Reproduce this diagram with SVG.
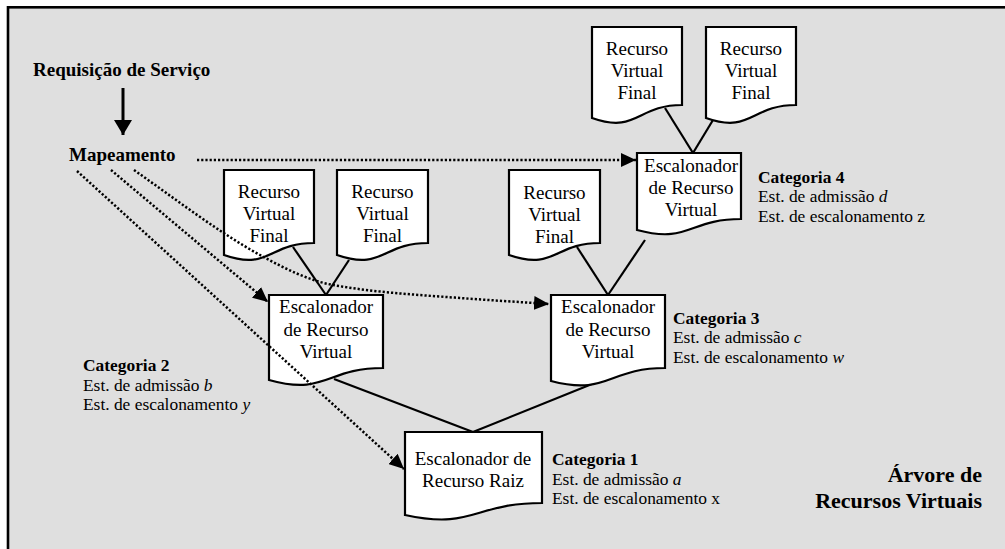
<svg xmlns="http://www.w3.org/2000/svg" width="1005" height="549" viewBox="0 0 1005 549">
  <style>
    .doc { fill: #ffffff; stroke: #000000; stroke-width: 2.2; stroke-linejoin: miter; }
    .lbl { font-family: "Liberation Serif", "Times New Roman", serif; font-size: 19px; fill: #000000; text-anchor: middle; }
    .head { font-family: "Liberation Serif", "Times New Roman", serif; font-size: 19px; font-weight: bold; fill: #000000; }
    .cat { font-family: "Liberation Serif", "Times New Roman", serif; font-size: 17.4px; fill: #000000; }
    .cat .b { font-weight: bold; }
    .title { font-family: "Liberation Serif", "Times New Roman", serif; font-size: 22px; font-weight: bold; fill: #000000; text-anchor: end; }
    .tree { fill: none; stroke: #000000; stroke-width: 2.2; }
    .map { fill: none; stroke: #000000; stroke-width: 2.5; stroke-dasharray: 2.2 2; marker-end: url(#dotHead); }
  </style>
  <defs>
    <marker id="dotHead" markerUnits="userSpaceOnUse" markerWidth="16" markerHeight="14" refX="15" refY="7" orient="auto">
      <path d="M0,0 L15,7 L0,14 Z" fill="#000000"/>
    </marker>
    <marker id="bigHead" markerUnits="userSpaceOnUse" markerWidth="16" markerHeight="18" refX="15" refY="9" orient="auto">
      <path d="M0,0 L15,9 L0,18 Z" fill="#000000"/>
    </marker>
  </defs>

  <!-- page and frame -->
  <rect x="0" y="0" width="1005" height="549" fill="#ffffff"/>
  <rect x="8" y="7.3" width="1010" height="560" fill="#dfdfdf" stroke="#000000" stroke-width="2.6"/>

  <!-- request / mapping -->
  <g id="request">
    <text class="head" x="33" y="76">Requisição de Serviço</text>
  </g>
  <g id="mapping">
    <text class="head" x="69" y="161">Mapeamento</text>
  </g>

  <!-- tree edges -->
  <g id="tree-edges" class="tree">
    <line x1="665" y1="108" x2="693" y2="153"/>
    <line x1="713" y1="120" x2="693" y2="153"/>
    <line x1="293" y1="247" x2="326" y2="295"/>
    <line x1="349" y1="260" x2="326" y2="295"/>
    <line x1="577" y1="247" x2="608" y2="295"/>
    <line x1="645" y1="240" x2="608" y2="295"/>
    <line x1="334" y1="379" x2="473" y2="432"/>
    <line x1="592" y1="384" x2="473" y2="432"/>
  </g>

  <!-- leaf resources -->
  <g id="leaf-4a">
    <path class="doc" d="M592,27 H682 V105 C637,105 637,134 592,118 Z"/>
    <text class="lbl" x="637" y="55">Recurso</text>
    <text class="lbl" x="637" y="77">Virtual</text>
    <text class="lbl" x="637" y="99">Final</text>
  </g>
  <g id="leaf-4b">
    <path class="doc" d="M706,27 H796 V105 C751,105 751,134 706,118 Z"/>
    <text class="lbl" x="751" y="55">Recurso</text>
    <text class="lbl" x="751" y="77">Virtual</text>
    <text class="lbl" x="751" y="99">Final</text>
  </g>
  <g id="leaf-2a">
    <path class="doc" d="M224,170 H314 V243 C269,243 269,271 224,255 Z"/>
    <text class="lbl" x="269" y="198">Recurso</text>
    <text class="lbl" x="269" y="220">Virtual</text>
    <text class="lbl" x="269" y="242">Final</text>
  </g>
  <g id="leaf-2b">
    <path class="doc" d="M337,170 H428 V243 C382.5,243 382.5,271 337,255 Z"/>
    <text class="lbl" x="382.5" y="198">Recurso</text>
    <text class="lbl" x="382.5" y="220">Virtual</text>
    <text class="lbl" x="382.5" y="242">Final</text>
  </g>
  <g id="leaf-3a">
    <path class="doc" d="M509,170 H600 V243 C554.5,243 554.5,271 509,255 Z"/>
    <text class="lbl" x="554.5" y="199">Recurso</text>
    <text class="lbl" x="554.5" y="221">Virtual</text>
    <text class="lbl" x="554.5" y="243">Final</text>
  </g>

  <!-- schedulers -->
  <g id="sched-4">
    <path class="doc" d="M637,153 H741 V219 C689,219 689,244 637,230 Z"/>
    <text class="lbl" x="691" y="172">Escalonador</text>
    <text class="lbl" x="691" y="194">de Recurso</text>
    <text class="lbl" x="691" y="216">Virtual</text>
  </g>
  <g id="sched-2">
    <path class="doc" d="M269,295 H383 V368 C326,368 326,396 269,380 Z"/>
    <text class="lbl" x="326" y="313">Escalonador</text>
    <text class="lbl" x="326" y="336">de Recurso</text>
    <text class="lbl" x="326" y="358">Virtual</text>
  </g>
  <g id="sched-3">
    <path class="doc" d="M551,295 H665 V368 C608,368 608,396 551,381 Z"/>
    <text class="lbl" x="608" y="313">Escalonador</text>
    <text class="lbl" x="608" y="336">de Recurso</text>
    <text class="lbl" x="608" y="358">Virtual</text>
  </g>
  <g id="sched-root">
    <path class="doc" d="M405,432 H542 V503 C473.5,503 473.5,530 405,515 Z"/>
    <text class="lbl" x="473" y="465">Escalonador de</text>
    <text class="lbl" x="473" y="487">Recurso Raiz</text>
  </g>

  <!-- category notes -->
  <g id="cat-4" class="cat">
    <text class="b" x="758" y="183">Categoria 4</text>
    <text x="758" y="202">Est. de admissão <tspan font-style="italic">d</tspan></text>
    <text x="758" y="222">Est. de escalonamento z</text>
  </g>
  <g id="cat-3" class="cat">
    <text class="b" x="673" y="324">Categoria 3</text>
    <text x="673" y="343">Est. de admissão <tspan font-style="italic">c</tspan></text>
    <text x="673" y="363">Est. de escalonamento <tspan font-style="italic">w</tspan></text>
  </g>
  <g id="cat-2" class="cat">
    <text class="b" x="83" y="371">Categoria 2</text>
    <text x="83" y="391">Est. de admissão <tspan font-style="italic">b</tspan></text>
    <text x="83" y="410">Est. de escalonamento <tspan font-style="italic">y</tspan></text>
  </g>
  <g id="cat-1" class="cat">
    <text class="b" x="552" y="465">Categoria 1</text>
    <text x="552" y="485">Est. de admissão <tspan font-style="italic">a</tspan></text>
    <text x="552" y="504">Est. de escalonamento x</text>
  </g>

  <g id="title">
    <text class="title" x="982" y="482">Árvore de</text>
    <text class="title" x="982" y="508">Recursos Virtuais</text>
  </g>

  <!-- request flow and mapping connectors -->
  <g id="connectors">
    <line x1="123" y1="88" x2="123" y2="135" stroke="#000000" stroke-width="3" marker-end="url(#bigHead)"/>
    <line class="map" x1="197" y1="160" x2="636" y2="160"/>
    <line class="map" x1="77" y1="171" x2="404" y2="469"/>
    <line class="map" x1="111" y1="170" x2="268" y2="302"/>
    <path class="map" d="M134,170 C176,199.4 218,231.9 260,255 C284.3,268.4 308.7,280.6 333,285 C375.3,292.6 417.7,294.8 460,298 C489.7,300.2 519.3,302 549,304"/>
  </g>
</svg>
